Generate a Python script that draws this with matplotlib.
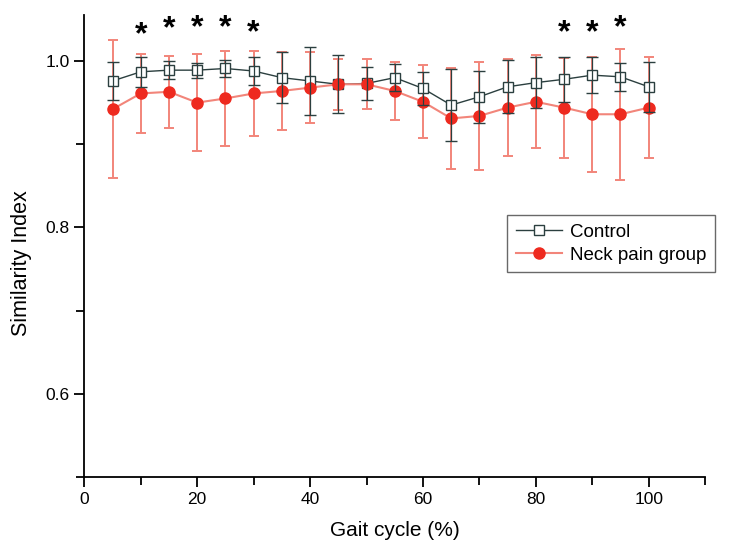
"""
Similarity index across the gait cycle: control vs neck pain group.
"""

import numpy as np
import matplotlib
matplotlib.use("Agg")
import matplotlib.pyplot as plt
from matplotlib.ticker import MultipleLocator

plt.rcParams["font.family"] = ["Liberation Sans", "DejaVu Sans"]

# gait cycle (%)
gait = [5, 10, 15, 20, 25, 30, 35, 40, 45, 50,
        55, 60, 65, 70, 75, 80, 85, 90, 95, 100]

control_mean = [0.976, 0.987, 0.989, 0.989, 0.991, 0.988, 0.980, 0.976, 0.972, 0.973,
                0.980, 0.967, 0.947, 0.957, 0.969, 0.974, 0.978, 0.983, 0.981, 0.969]
control_sd = [0.023, 0.018, 0.011, 0.009, 0.010, 0.017, 0.031, 0.041, 0.035, 0.020,
              0.016, 0.020, 0.043, 0.031, 0.032, 0.031, 0.027, 0.022, 0.017, 0.030]

neck_mean = [0.942, 0.961, 0.963, 0.950, 0.955, 0.961, 0.964, 0.968, 0.972, 0.972,
             0.964, 0.951, 0.931, 0.934, 0.944, 0.951, 0.944, 0.936, 0.936, 0.944]
neck_sd = [0.083, 0.047, 0.043, 0.058, 0.057, 0.051, 0.047, 0.043, 0.031, 0.030,
           0.035, 0.044, 0.061, 0.065, 0.058, 0.056, 0.060, 0.069, 0.079, 0.061]

# significance markers
star_x = [10, 15, 20, 25, 30, 85, 90, 95]
star_y = [1.031, 1.038, 1.039, 1.039, 1.033, 1.033, 1.033, 1.039]

RED = "#ee2a1f"
RED_LIGHT = "#f2857a"
DARK = "#2b3f3f"

fig = plt.figure(figsize=(7.33, 5.44), dpi=100)
ax = fig.add_axes([0.115, 0.123, 0.847, 0.849])

# neck pain error bars (behind everything)
ax.errorbar(gait, neck_mean, yerr=neck_sd, fmt="none", ecolor=RED_LIGHT,
            elinewidth=1.4, capsize=3.8, capthick=1.4, zorder=1)

# control
ax.plot(gait, control_mean, color=DARK, lw=1.0, marker="s", ms=6.5,
        mfc="white", mec=DARK, mew=1.0, label="Control", zorder=2)

# neck pain
ax.plot(gait, neck_mean, color=RED_LIGHT, lw=1.5, marker="o", ms=8,
        mfc=RED, mec=RED, label="Neck pain group", zorder=3)

# control error bars on top
ax.errorbar(gait, control_mean, yerr=control_sd, fmt="none", ecolor=DARK,
            elinewidth=0.9, capsize=4.5, capthick=1.0, zorder=4)

for sx, sy in zip(star_x, star_y):
    ax.text(sx, sy, "*", ha="center", va="center", fontsize=23,
            fontweight="bold", color="black")

ax.set_xlim(0, 110)
ax.set_ylim(0.5, 1.055)
ax.xaxis.set_major_locator(MultipleLocator(20))
ax.xaxis.set_minor_locator(MultipleLocator(10))
ax.yaxis.set_major_locator(MultipleLocator(0.2))
ax.yaxis.set_minor_locator(MultipleLocator(0.1))
ax.yaxis.set_major_formatter(plt.FuncFormatter(lambda v, p: f"{v:.1f}"))

for side in ["top", "right"]:
    ax.spines[side].set_visible(False)
for side in ["left", "bottom"]:
    ax.spines[side].set_linewidth(1.3)

ax.tick_params(which="major", direction="out", length=7, width=1.3, labelsize=12.5)
ax.tick_params(which="minor", direction="out", length=6, width=1.3)

ax.set_xlabel("Gait cycle (%)", fontsize=15)
ax.set_ylabel("Similarity Index", fontsize=15.5)
ax.yaxis.set_label_coords(-0.085, 0.463)
ax.xaxis.set_label_coords(0.5, -0.095)

leg = ax.legend(loc="lower left", bbox_to_anchor=(0.681, 0.444), borderaxespad=0,
                fontsize=13.5, frameon=True, fancybox=False, handlelength=2.5,
                handletextpad=0.4, borderpad=0.45, labelspacing=0.3)
leg.get_frame().set_edgecolor("#444444")
leg.get_frame().set_linewidth(1.0)

fig.savefig("out.png", dpi=100)
